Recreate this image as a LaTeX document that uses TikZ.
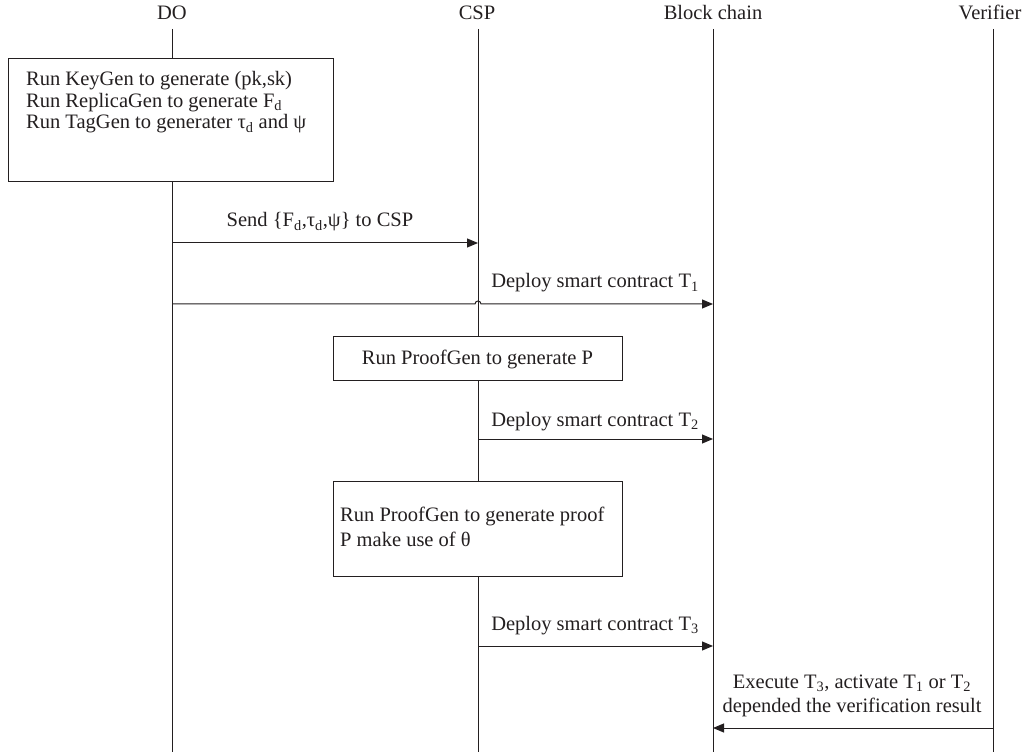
\documentclass[tikz,border=0pt]{standalone}
\usepackage{fontspec}
\setmainfont{Liberation Serif}
\usetikzlibrary{arrows.meta}
\definecolor{ink}{HTML}{231F20}
\tikzset{
  life/.style={draw=ink, line width=1pt},
  msg/.style={draw=ink, line width=1pt, -{Triangle[length=11pt,width=9pt]}},
  actbox/.style={draw=ink, line width=1pt, fill=white},
  lbl/.style={font=\fontsize{20.5}{24.5}\selectfont, text=ink, inner sep=0pt, anchor=base},
  lln/.style={lbl, anchor=base west},
}
\begin{document}
\begin{tikzpicture}[x=1pt,y=-1pt]
\useasboundingbox (0,0) rectangle (1029,754);
% headers
\node[lbl] (hDO) at (172,20) {DO};
\node[lbl] (hCSP) at (477,20) {CSP};
\node[lbl] (hBC) at (713,20) {Block chain};
\node[lbl] (hV) at (990,20) {Verifier};
% lifeline ends
\coordinate (DOt) at (172,29); \coordinate (DOb) at (172,752);
\coordinate (CSPt) at (478,29); \coordinate (CSPb) at (478,752);
\coordinate (BCt) at (713,29); \coordinate (BCb) at (713,752);
\coordinate (Vt) at (993,29); \coordinate (Vb) at (993,752);
\draw[life] (DOt) -- (DOb);
\draw[life] (BCt) -- (BCb);
\draw[life] (Vt) -- (Vb);
\draw[life] (CSPt) -- (CSPb);
% box 1
\draw[actbox] (8,59) rectangle (333,182);
\node[lln] (t1a) at (26,86) {Run KeyGen to generate (pk,sk)};
\node[lln] (t1b) at (26,107.5) {Run ReplicaGen to generate F\textsubscript{d}};
\node[lln] (t1c) at (26,129) {Run TagGen to generater τ\textsubscript{d} and ψ};
% message 1
\coordinate (m1s) at (172,243); \coordinate (m1e) at (478,243);
\draw[msg] (m1s) -- (m1e);
\node[lbl] (l1) at (320,227) {Send \{F\textsubscript{d},τ\textsubscript{d},ψ\} to CSP};
% message 2 with hop
\coordinate (m2s) at (172,304); \coordinate (m2e) at (713,304);
\draw[msg] (m2s) -- (475,304) arc[start angle=180, end angle=360, radius=3] -- (m2e);
\node[lbl] (l2) at (595,288) {Deploy smart contract T\textsubscript{1}};
% box 2
\draw[actbox] (333,337) rectangle (622,380);
\node[lbl] (t2) at (477.5,364) {Run ProofGen to generate P};
% message 3
\coordinate (m3s) at (478,439); \coordinate (m3e) at (713,439);
\draw[msg] (m3s) -- (m3e);
\node[lbl] (l3) at (595,426) {Deploy smart contract T\textsubscript{2}};
% box 3
\draw[actbox] (333,481) rectangle (622,576);
\node[lln] (t3a) at (340,521) {Run ProofGen to generate proof};
\node[lln] (t3b) at (340,546) {P make use of θ};
% message 4
\coordinate (m4s) at (478,646); \coordinate (m4e) at (713,646);
\draw[msg] (m4s) -- (m4e);
\node[lbl] (l4) at (595,630) {Deploy smart contract T\textsubscript{3}};
% message 5
\coordinate (m5s) at (993,728); \coordinate (m5e) at (713,728);
\draw[msg] (m5s) -- (m5e);
\node[lbl] (l5a) at (852,688) {Execute T\textsubscript{3}, activate T\textsubscript{1} or T\textsubscript{2}};
\node[lbl] (l5b) at (852,712) {depended the verification result};
\end{tikzpicture}
\end{document}
